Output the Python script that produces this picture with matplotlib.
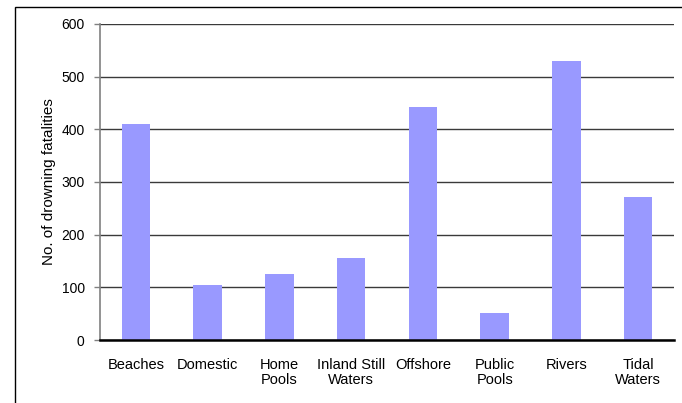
import numpy as np
import matplotlib.pyplot as plt
from matplotlib.patches import Rectangle

plt.rcParams['font.family'] = ['Liberation Sans', 'DejaVu Sans']

# Drowning fatalities by location
locations = ['Beaches', 'Domestic', 'Home\nPools', 'Inland Still\nWaters',
             'Offshore', 'Public\nPools', 'Rivers', 'Tidal\nWaters']
fatalities = [410, 105, 126, 155, 442, 52, 530, 272]

W, H = 682, 403
fig = plt.figure(figsize=(W / 100, H / 100), dpi=100)
ax = fig.add_axes([100 / W, 1 - 340 / H, 574 / W, 316 / H])

x = np.arange(len(locations))
ax.bar(x, fatalities, width=0.4, color='#9999ff', zorder=3)

ax.set_xlim(-0.5, len(locations) - 0.5)
ax.set_ylim(0, 600)
ax.set_yticks(range(0, 601, 100))
ax.yaxis.grid(True, color='#3a3a3a', linewidth=1, zorder=0)
ax.set_xticks(x)
ax.set_xticklabels(locations, fontsize=10.5, linespacing=1.1)
ax.tick_params(axis='x', length=0, pad=13)
ax.tick_params(axis='y', length=4, width=1, color='#808080', labelsize=10, pad=7)

for side in ['top', 'right']:
    ax.spines[side].set_visible(False)
ax.spines['left'].set_color('#808080')
ax.spines['left'].set_linewidth(1.2)
ax.spines['bottom'].set_color('black')
ax.spines['bottom'].set_linewidth(1.8)
ax.spines['bottom'].set_zorder(4)

ax.set_ylabel('No. of drowning fatalities', fontsize=11, labelpad=4)

# outer chart border
fig.patches.append(Rectangle((15 / W, -0.05), 1.0, 1 - 7 / H + 0.05,
                             transform=fig.transFigure, fill=False,
                             edgecolor='black', linewidth=1))

fig.savefig('out.png', dpi=100)
